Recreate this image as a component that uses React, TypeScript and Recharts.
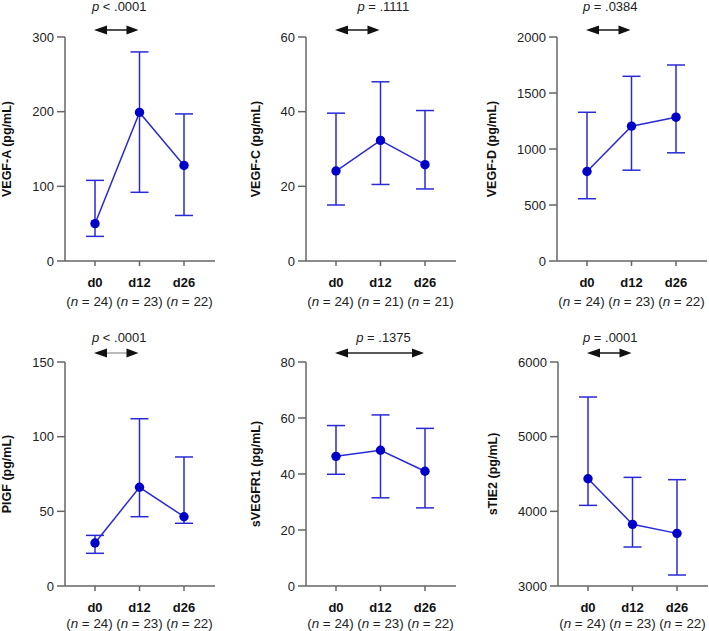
import { LineChart, Line, XAxis, YAxis, ErrorBar, ReferenceLine } from 'recharts';

const days = ['d0', 'd12', 'd26'];

// VEGF-A
const vegfAMean = [50, 199, 128];
const vegfALow = [33, 92, 61];
const vegfAHigh = [108, 280, 197];
const vegfAN = [24, 23, 22];
const vegfATicks = [0, 100, 200, 300];

// VEGF-C
const vegfCMean = [24.1, 32.3, 25.8];
const vegfCLow = [15.0, 20.5, 19.3];
const vegfCHigh = [39.6, 48.0, 40.3];
const vegfCN = [24, 21, 21];
const vegfCTicks = [0, 20, 40, 60];

// VEGF-D
const vegfDMean = [799, 1204, 1284];
const vegfDLow = [556, 811, 966];
const vegfDHigh = [1328, 1649, 1750];
const vegfDN = [24, 23, 22];
const vegfDTicks = [0, 500, 1000, 1500, 2000];

// PlGF
const plgfMean = [28.8, 66.1, 46.4];
const plgfLow = [21.9, 46.4, 42];
const plgfHigh = [33.9, 112, 86.4];
const plgfN = [24, 23, 22];
const plgfTicks = [0, 50, 100, 150];

// sVEGFR1
const svegfr1Mean = [46.3, 48.5, 41.0];
const svegfr1Low = [39.9, 31.5, 27.9];
const svegfr1High = [57.3, 61.1, 56.3];
const svegfr1N = [24, 23, 22];
const svegfr1Ticks = [0, 20, 40, 60, 80];

// sTIE2
const stie2Mean = [4437, 3826, 3705];
const stie2Low = [4080, 3522, 3147];
const stie2High = [5531, 4455, 4424];
const stie2N = [24, 23, 22];
const stie2Ticks = [3000, 4000, 5000, 6000];

const FONT = '"Liberation Sans", Arial, Helvetica, sans-serif';
const BLUE = '#2a2ad4';
const DOT = '#0000c8';
const AXIS = '#666666';

const buildData = (mean: number[], low: number[], high: number[]) =>
	days.map((day, i) => ({
		day,
		mean: mean[i],
		err: [mean[i] - low[i], high[i] - mean[i]],
	}));

const panels = [
	{ name: 'VEGF-A (pg/mL)', ticks: vegfATicks, data: buildData(vegfAMean, vegfALow, vegfAHigh), n: vegfAN, rel: '<', p: '.0001', to: 'd12', shaft: '#222', textDx: 2, left: -15, top: 0, labelX: 22, lift: 7, textLift: 26, nDy: 40 },
	{ name: 'VEGF-C (pg/mL)', ticks: vegfCTicks, data: buildData(vegfCMean, vegfCLow, vegfCHigh), n: vegfCN, rel: '=', p: '.1111', to: 'd12', shaft: '#222', textDx: 25, left: 226, top: 0, labelX: 30, lift: 7, textLift: 26, nDy: 40 },
	{ name: 'VEGF-D (pg/mL)', ticks: vegfDTicks, data: buildData(vegfDMean, vegfDLow, vegfDHigh), n: vegfDN, rel: '=', p: '.0384', to: 'd12', shaft: '#222', textDx: 1, left: 477, top: 0, labelX: 15, lift: 7, textLift: 26, nDy: 40 },
	{ name: 'PlGF (pg/mL)', ticks: plgfTicks, data: buildData(plgfMean, plgfLow, plgfHigh), n: plgfN, rel: '<', p: '.0001', to: 'd12', shaft: '#aaa', textDx: 2, left: -15, top: 325, labelX: 22, lift: 9, textLift: 20.5, nDy: 36.5 },
	{ name: 'sVEGFR1 (pg/mL)', ticks: svegfr1Ticks, data: buildData(svegfr1Mean, svegfr1Low, svegfr1High), n: svegfr1N, rel: '=', p: '.1375', to: 'd26', shaft: '#222', textDx: 3, left: 226, top: 325, labelX: 30, lift: 9, textLift: 20.5, nDy: 36.5 },
	{ name: 'sTIE2 (pg/mL)', ticks: stie2Ticks, data: buildData(stie2Mean, stie2Low, stie2High), n: stie2N, rel: '=', p: '.0001', to: 'd12', shaft: '#222', textDx: 0, left: 478, top: 325, labelX: 15, lift: 9, textLift: 20.5, nDy: 36.5 },
];

const DayTick = (props: any) => {
	const { x, y, payload, ns, nDy } = props;
	const i = days.indexOf(payload.value);
	// the n labels sit as one spaced line, so the outer ones are nudged outward
	const shift = (i - 1) * 5.5;
	return (
		<g fontFamily={FONT}>
			<text x={x} y={y + 21} textAnchor='middle' fontSize={13} fontWeight={700} fill='#111'>
				{payload.value}
			</text>
			<text x={x + shift} y={y + nDy} textAnchor='middle' fontSize={13.4} fill='#222'>
				(<tspan fontStyle='italic'>n</tspan> = {ns[i]})
			</text>
		</g>
	);
};

// double-headed arrow with the p value above it
const makeArrow = (rel: string, p: string, shaft: string, lift: number, textLift: number, textDx: number) =>
	(props: any) => {
		const { x1, x2, y1 } = props;
		const y = y1 - lift;
		const head = 12;
		const half = 4.5;
		return (
			<g>
				<line x1={x1 + head - 1} y1={y} x2={x2 - head + 1} y2={y} stroke={shaft} strokeWidth={1.6} />
				<polygon points={`${x1 - 1},${y} ${x1 + head},${y - half} ${x1 + head},${y + half}`} fill='#111' />
				<polygon points={`${x2 - 1},${y} ${x2 - head - 1},${y - half} ${x2 - head - 1},${y + half}`} fill='#111' />
				<text x={(x1 + x2) / 2 + textDx} y={y1 - textLift} textAnchor='middle' fontSize={13} fill='#222' fontFamily={FONT}>
					<tspan fontStyle='italic'>p</tspan> {rel} {p}
				</text>
			</g>
		);
	};

function Panel({ panel }: { panel: (typeof panels)[number] }) {
	const top = panel.ticks[panel.ticks.length - 1];
	return (
		<div style={{ position: 'absolute', left: panel.left, top: panel.top }}>
			<LineChart
				width={235}
				height={320}
				data={panel.data}
				margin={{ top: 37, right: 5, bottom: 0, left: 0 }}
				style={{ fontFamily: FONT }}>
				<XAxis
					dataKey='day'
					height={59}
					padding={{ left: 30, right: 31 }}
					interval={0}
					tickSize={5}
					tickMargin={0}
					axisLine={{ stroke: AXIS, strokeWidth: 1.5 }}
					tickLine={{ stroke: AXIS, strokeWidth: 1.5 }}
					tick={<DayTick ns={panel.n} nDy={panel.nDy} />}
				/>
				<YAxis
					type='number'
					width={80}
					domain={[panel.ticks[0], top]}
					ticks={panel.ticks}
					interval={0}
					tickSize={8}
					tickMargin={3}
					axisLine={{ stroke: AXIS, strokeWidth: 1.5 }}
					tickLine={{ stroke: AXIS, strokeWidth: 1.5 }}
					tick={{ fontSize: 13, fill: '#222', fontFamily: FONT }}
					label={{
						value: panel.name,
						angle: -90,
						position: 'insideLeft',
						offset: panel.labelX,
						textAnchor: 'middle',
						fontSize: 12.5,
						fontWeight: 700,
						fill: '#111',
						fontFamily: FONT,
					}}
				/>
				<ReferenceLine
					segment={[
						{ x: 'd0', y: top },
						{ x: panel.to, y: top },
					]}
					ifOverflow='visible'
					shape={makeArrow(panel.rel, panel.p, panel.shaft, panel.lift, panel.textLift, panel.textDx)}
				/>
				<Line
					type='linear'
					dataKey='mean'
					stroke={BLUE}
					strokeWidth={1.5}
					dot={{ r: 4.7, fill: DOT, stroke: DOT, strokeWidth: 0 }}
					activeDot={false}
					isAnimationActive={false}>
					<ErrorBar dataKey='err' width={9} stroke={BLUE} strokeWidth={1.5} direction='y' isAnimationActive={false} />
				</Line>
			</LineChart>
		</div>
	);
}

export default function App() {
	return (
		<div
			style={{
				position: 'absolute',
				left: 0,
				top: 0,
				width: 709,
				height: 631,
				overflow: 'hidden',
				background: '#fff',
				fontFamily: FONT,
			}}>
			{panels.map((panel) => (
				<Panel key={panel.name} panel={panel} />
			))}
		</div>
	);
}
